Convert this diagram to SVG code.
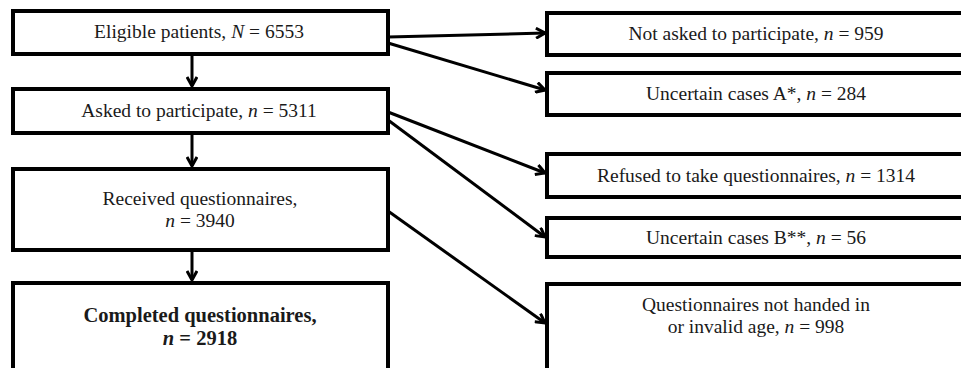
<svg xmlns="http://www.w3.org/2000/svg" width="961" height="368" viewBox="0 0 961 368">
<style>
.box{fill:#fff;stroke:#000;stroke-width:4}
.t{font-family:"Liberation Serif","Times New Roman",serif;font-size:19.5px;fill:#1a1a1a;text-anchor:middle}
.b{font-weight:bold;font-size:20.5px}
.c{stroke:#000;stroke-width:3;fill:none}
</style>
<defs>
<marker id="ah" viewBox="0 0 12 12" refX="11" refY="6" markerWidth="12" markerHeight="12" markerUnits="userSpaceOnUse" orient="auto">
<path d="M2,1 L11,6 L2,11" fill="none" stroke="#000" stroke-width="3"/>
</marker>
</defs>
<rect width="961" height="368" fill="#fff"/>
<g id="connectors">
<line class="c" x1="192" y1="55" x2="192" y2="86" marker-end="url(#ah)"/>
<line class="c" x1="192" y1="135" x2="192" y2="166" marker-end="url(#ah)"/>
<line class="c" x1="192" y1="252" x2="192" y2="280" marker-end="url(#ah)"/>
<line class="c" x1="388" y1="37" x2="545" y2="33" marker-end="url(#ah)"/>
<line class="c" x1="388" y1="43" x2="545" y2="90" marker-end="url(#ah)"/>
<line class="c" x1="388" y1="112" x2="545" y2="173" marker-end="url(#ah)"/>
<line class="c" x1="388" y1="120" x2="545" y2="237" marker-end="url(#ah)"/>
<line class="c" x1="388" y1="211" x2="545" y2="323" marker-end="url(#ah)"/>
</g>
<g id="eligible">
<rect class="box" x="13" y="11" width="375" height="43"/>
<text class="t" x="199" y="38">Eligible patients, <tspan font-style="italic">N</tspan> = 6553</text>
</g>
<g id="asked">
<rect class="box" x="13" y="89" width="375" height="44"/>
<text class="t" x="199" y="117">Asked to participate, <tspan font-style="italic">n</tspan> = 5311</text>
</g>
<g id="received">
<rect class="box" x="13" y="169" width="375" height="81"/>
<text class="t" x="200" y="205">Received questionnaires,</text>
<text class="t" x="200" y="227"><tspan font-style="italic">n</tspan> = 3940</text>
</g>
<g id="completed">
<rect class="box" x="13" y="283" width="375" height="100"/>
<text class="t b" x="200" y="322">Completed questionnaires,</text>
<text class="t b" x="200" y="345"><tspan font-style="italic">n</tspan> = 2918</text>
</g>
<g id="notasked">
<rect class="box" x="547" y="13" width="430" height="42"/>
<text class="t" x="756" y="40">Not asked to participate, <tspan font-style="italic">n</tspan> = 959</text>
</g>
<g id="uncertainA">
<rect class="box" x="547" y="73" width="430" height="42"/>
<text class="t" x="756" y="100">Uncertain cases A*, <tspan font-style="italic">n</tspan> = 284</text>
</g>
<g id="refused">
<rect class="box" x="547" y="154" width="430" height="43"/>
<text class="t" x="756" y="182">Refused to take questionnaires, <tspan font-style="italic">n</tspan> = 1314</text>
</g>
<g id="uncertainB">
<rect class="box" x="547" y="218" width="430" height="39"/>
<text class="t" x="756" y="244">Uncertain cases B**, <tspan font-style="italic">n</tspan> = 56</text>
</g>
<g id="nothanded">
<rect class="box" x="547" y="284" width="430" height="100"/>
<text class="t" x="756" y="311">Questionnaires not handed in</text>
<text class="t" x="756" y="333">or invalid age, <tspan font-style="italic">n</tspan> = 998</text>
</g>
</svg>
